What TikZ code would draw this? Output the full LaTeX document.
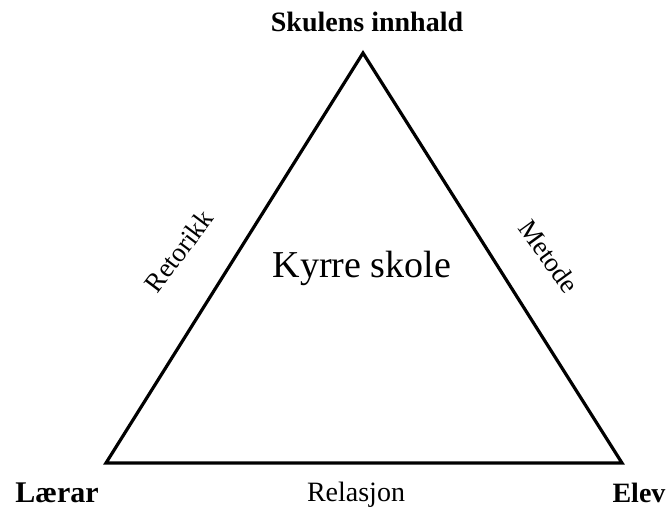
\documentclass[tikz,border=0pt]{standalone}
\usepackage{fontspec}
\setmainfont{Liberation Serif}
\begin{document}
\begin{tikzpicture}[x=1pt,y=-1pt,
  corner/.style={font=\fontsize{28}{32}\selectfont\bfseries, inner sep=0pt, anchor=base},
  edgelabel/.style={font=\fontsize{27}{32}\selectfont, inner sep=0pt},
  side/.style={line width=3.2pt, line join=miter}]
\useasboundingbox (0,0) rectangle (672,508);
\coordinate (T) at (363,53);
\coordinate (L) at (106,463);
\coordinate (R) at (622,463);
\draw[side] (T) -- (L) -- (R) -- cycle;
\node[corner] (top) at (367,32) {Skulens innhald};
\node[corner, font=\fontsize{30}{34}\selectfont\bfseries] (laerar) at (57,502) {Lærar};
\node[corner] (elev) at (639,502) {Elev};
\node[edgelabel, font=\fontsize{28}{32}\selectfont, anchor=base] (rel) at (356,501) {Relasjon};
\node[edgelabel, rotate=53] (ret) at (179,251) {Retorikk};
\node[edgelabel, rotate=-54] (met) at (549,256) {Metode};
\node[font=\fontsize{38}{43}\selectfont, inner sep=0pt] (ks) at (362,268) {Kyrre skole};
\end{tikzpicture}
\end{document}
